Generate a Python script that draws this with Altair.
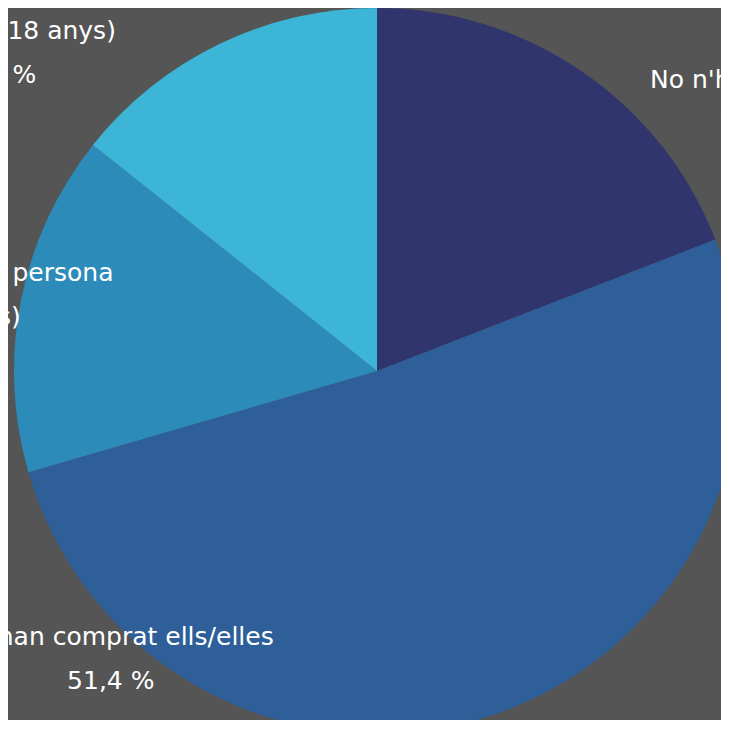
import altair as alt
import pandas as pd

categories = ["A", "B", "C", "D"]
labels = [
    "No n'han comprat\n19,1 %",
    "Les han comprat ells/elles\n51,4 %",
    "Les ha comprat una altra persona\n(major de 18 anys)\n15,2 %",
    "Les ha comprat una altra persona\n(menor de 18 anys)\n14,3 %",
]
values = [19.1, 51.4, 15.2, 14.3]
colors = ["#31356d", "#2e5f99", "#2d8bb9", "#3db5d6"]

df = pd.DataFrame({"cat": categories, "label": labels, "value": values,
                   "order": list(range(len(categories)))})

CX, CY, R = 369, 363, 363
LABEL_R = 420
# label nudges (dx, dy) relative to mid-angle position
nudges = {"A": (148, 56), "B": (-401, -132), "C": (-63, -17), "D": (-202, -6)}

base = alt.Chart(df)

pie = base.mark_arc(radius=R).encode(
    theta=alt.Theta("value:Q", stack=True),
    order=alt.Order("order:Q"),
    color=alt.Color("cat:N", scale=alt.Scale(domain=categories, range=colors), legend=None),
    x=alt.value(CX),
    y=alt.value(CY),
)

layers = [pie]
for c in categories:
    dx, dy = nudges[c]
    t = (
        base.transform_joinaggregate(total="sum(value)")
        .transform_window(cum="sum(value)", sort=[alt.SortField("order")])
        .transform_calculate(mid="(datum.cum - datum.value/2) / datum.total * 2 * PI")
        .transform_filter(alt.datum.cat == c)
        .mark_text(radius=LABEL_R, dx=dx, dy=dy, fontSize=25, font="DejaVu Sans",
                   fontWeight="normal", color="white", lineBreak="\n", lineHeight=44,
                   align="center", baseline="middle")
        .encode(theta=alt.Theta("mid:Q", scale=None), text="label:N",
                x=alt.value(CX), y=alt.value(CY))
    )
    layers.append(t)

chart = alt.layer(*layers).properties(
    width=713, height=712, autosize=alt.AutoSizeParams(type="none"), padding=0,
    background="#555555"
).configure_view(stroke=None)

chart.save("out.html", embed_options={"renderer": "svg", "actions": False})
